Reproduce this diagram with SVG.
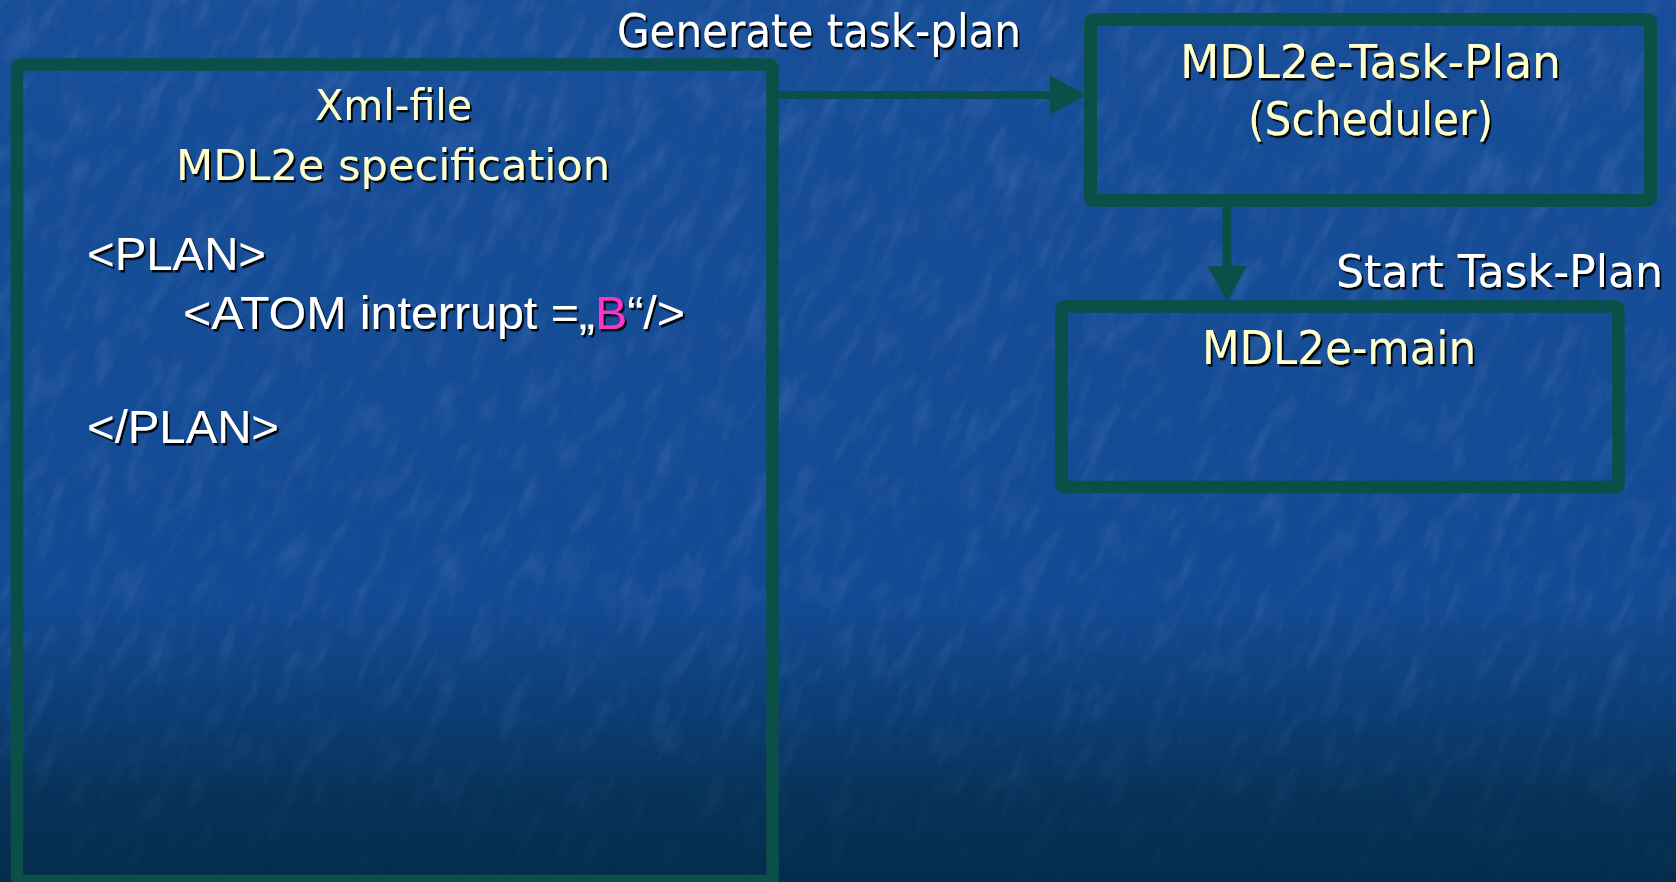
<svg xmlns="http://www.w3.org/2000/svg" width="1676" height="882" viewBox="0 0 1676 882">
  <defs>
    <linearGradient id="bg" x1="0" y1="0" x2="0" y2="1">
      <stop offset="0" stop-color="#184e98"/>
      <stop offset="0.68" stop-color="#134a94"/>
      <stop offset="0.8" stop-color="#0c3e76"/>
      <stop offset="0.9" stop-color="#07325a"/>
      <stop offset="1" stop-color="#052c4b"/>
    </linearGradient>
    <!-- fine mottled texture laid over the background -->
    <filter id="grain" x="0" y="0" width="100%" height="100%">
      <feTurbulence type="fractalNoise" baseFrequency="0.06 0.02" numOctaves="3" seed="11" result="n"/>
      <feColorMatrix in="n" type="matrix"
        values="0 0 0 0 0.45
                0 0 0 0 0.62
                0 0 0 0 0.95
                0 0 0 1.7 -0.8"/>
    </filter>
    <linearGradient id="fade" x1="0" y1="0" x2="0" y2="1">
      <stop offset="0" stop-color="#fff" stop-opacity="1"/>
      <stop offset="0.75" stop-color="#fff" stop-opacity="0.8"/>
      <stop offset="1" stop-color="#fff" stop-opacity="0.15"/>
    </linearGradient>
    <mask id="fadeMask">
      <rect x="0" y="0" width="1676" height="882" fill="url(#fade)"/>
    </mask>
    <filter id="shadow" x="-5%" y="-20%" width="110%" height="150%">
      <feDropShadow dx="2" dy="2.5" stdDeviation="0.4" flood-color="#000000" flood-opacity="0.95"/>
    </filter>
    <marker id="head" markerUnits="userSpaceOnUse" viewBox="0 0 36 39" markerWidth="36" markerHeight="39" refX="6" refY="19.5" orient="auto">
      <path d="M0,0 L36,19.5 L0,39 Z" fill="#0a4f48"/>
    </marker>
    <style>
      .box { fill: none; stroke: #0a4f48; }
      .link { stroke: #0a4f48; fill: none; }
      .head { font-family: "DejaVu Sans", "Noto Sans", sans-serif; fill: #ffffcc; }
      .label { font-family: "DejaVu Sans", "Noto Sans", sans-serif; fill: #ffffff; }
      .code { font-family: "Liberation Sans", Arial, sans-serif; fill: #ffffff; font-size: 46px; }
      .hl { fill: #ff33cc; }
    </style>
  </defs>

  <!-- background -->
  <rect x="0" y="0" width="1676" height="882" fill="url(#bg)"/>
  <g mask="url(#fadeMask)">
    <rect x="-700" y="-700" width="3076" height="2282" transform="rotate(25 838 441)" filter="url(#grain)" opacity="0.18"/>
  </g>

  <!-- connectors -->
  <g id="connectors">
    <line class="link" x1="779" y1="95" x2="1056" y2="95" stroke-width="8" marker-end="url(#head)"/>
    <line class="link" x1="1227" y1="207" x2="1227" y2="272" stroke-width="9" marker-end="url(#head)"/>
    <g filter="url(#shadow)">
      <text class="label" x="617" y="47" font-size="46" textLength="404" lengthAdjust="spacingAndGlyphs">Generate task-plan</text>
      <text class="label" x="1336" y="287" font-size="45" textLength="327" lengthAdjust="spacingAndGlyphs">Start Task-Plan</text>
    </g>
  </g>

  <!-- XML specification box -->
  <g id="xml-file">
    <rect class="box" x="17" y="64.5" width="755.5" height="816.5" rx="3" stroke-width="12.5"/>
    <g filter="url(#shadow)">
      <text class="head" x="315" y="120" font-size="43" textLength="157" lengthAdjust="spacingAndGlyphs">Xml-file</text>
      <text class="head" x="176" y="180" font-size="43" textLength="434" lengthAdjust="spacingAndGlyphs">MDL2e specification</text>
      <text class="code" x="87" y="270" textLength="179" lengthAdjust="spacingAndGlyphs">&lt;PLAN&gt;</text>
      <text class="code" x="183" y="329" textLength="502" lengthAdjust="spacingAndGlyphs">&lt;ATOM interrupt =„<tspan class="hl">B</tspan>“/&gt;</text>
      <text class="code" x="87" y="443" textLength="192" lengthAdjust="spacingAndGlyphs">&lt;/PLAN&gt;</text>
    </g>
  </g>

  <!-- scheduler box -->
  <g id="task-plan">
    <rect class="box" x="1090.5" y="19.5" width="560" height="181" rx="3" stroke-width="13"/>
    <g filter="url(#shadow)">
      <text class="head" x="1180" y="78" font-size="46" textLength="381" lengthAdjust="spacingAndGlyphs">MDL2e-Task-Plan</text>
      <text class="head" x="1248" y="135" font-size="46" textLength="245" lengthAdjust="spacingAndGlyphs">(Scheduler)</text>
    </g>
  </g>

  <!-- main program box -->
  <g id="main">
    <rect class="box" x="1061.5" y="306.5" width="557" height="180.5" rx="3" stroke-width="12.5"/>
    <g filter="url(#shadow)">
      <text class="head" x="1202" y="364" font-size="46" textLength="274" lengthAdjust="spacingAndGlyphs">MDL2e-main</text>
    </g>
  </g>
</svg>
